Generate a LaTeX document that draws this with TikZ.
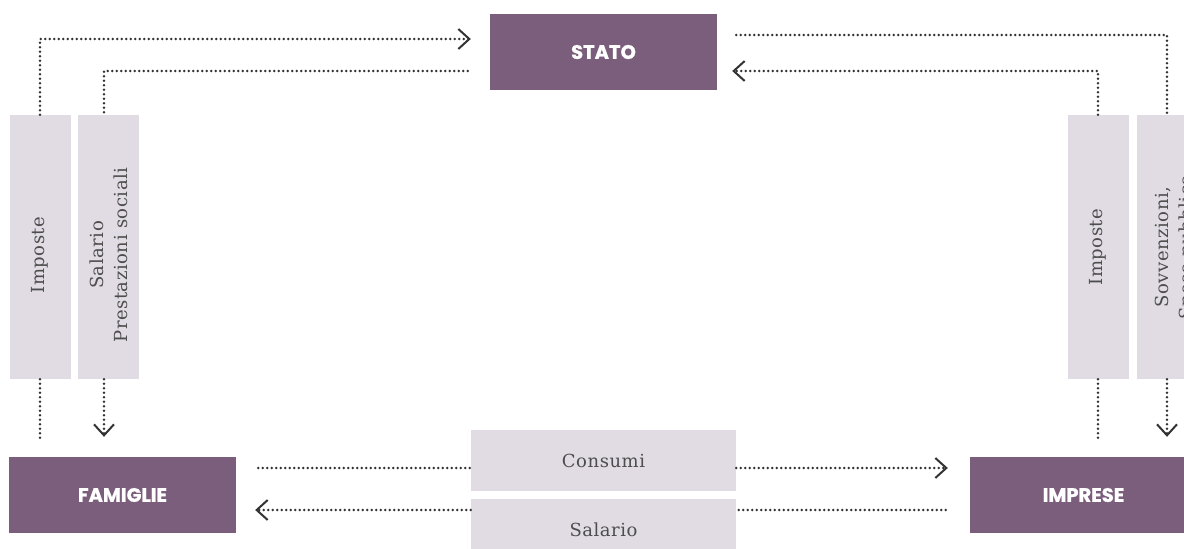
\documentclass[tikz,border=0pt]{standalone}
\usepackage{fontspec}
\setmainfont{DejaVu Serif}[LetterSpace=3]
\newfontfamily\titlefont{Poppins}[BoldFeatures={FakeBold=1.2}]
\usetikzlibrary{arrows.meta}
\definecolor{boxpurple}{HTML}{7B5E7B}
\definecolor{boxgray}{HTML}{E1DCE3}
\definecolor{dotcol}{HTML}{333333}
\definecolor{txtcol}{HTML}{4D4D4D}
\tikzset{
  mainbox/.style={fill=boxpurple, draw=none, minimum width=227pt, minimum height=76pt, inner sep=0pt,
    text=white, font=\titlefont\bfseries\fontsize{19.5}{22}\selectfont},
  vbox/.style={fill=boxgray, draw=none, minimum width=61pt, minimum height=264pt, inner sep=0pt},
  hbox/.style={fill=boxgray, draw=none, minimum width=265pt, minimum height=61pt, inner sep=0pt,
    text=txtcol, font=\fontsize{18}{21}\selectfont},
  vlabel/.style={rotate=90, text=txtcol, align=center, inner sep=0pt,
    font=\fontsize{18}{24}\selectfont},
  dots/.style={draw=dotcol, line width=2.8pt, line cap=round, dash pattern=on 0pt off 4.5pt},
  tip/.style={-{Straight Barb[length=11pt,width=20pt,line width=2pt]}}
}
\begin{document}
\begin{tikzpicture}[x=1pt,y=-1pt]
\useasboundingbox (0,0) rectangle (1184,549);
\clip (0,0) rectangle (1184,549);
% main boxes
\node[mainbox] (stato) at (603.5,52) {STATO};
\node[mainbox] (famiglie) at (122.5,495) {FAMIGLIE};
\node[mainbox] (imprese) at (1083.5,495) {IMPRESE};
% vertical label boxes
\node[vbox] (b1) at (40,247) {};
\node[vbox] (b2) at (108.5,247) {};
\node[vbox] (b3) at (1098,247) {};
\node[vbox] (b4) at (1167,247) {};
\node[vlabel] (t1) at (40,255) {Imposte};
\node[vlabel] (t2) at (109,255) {Salario\\Prestazioni sociali};
\node[vlabel] (t3) at (1098,247) {Imposte};
\node[vlabel] (t4) at (1176,247) {Sovvenzioni,\\Spesa pubblica};
% horizontal label boxes
\node[hbox] (consumi) at (603.5,460.5) {Consumi};
\node[hbox] (salario) at (603.5,529.5) {Salario};
% helper coordinates
\coordinate (s1) at ([xshift=-19pt,yshift=13pt]stato.west);
\coordinate (s2) at ([xshift=-22pt,yshift=-19pt]stato.west);
\coordinate (s3) at ([xshift=19pt,yshift=17pt]stato.east);
\coordinate (s4) at ([xshift=15pt,yshift=-19pt]stato.east);
\coordinate (b2n) at ([xshift=-4.5pt]b2.north);
\coordinate (b2s) at ([xshift=-4.5pt]b2.south);
\coordinate (c1) at ([xshift=22pt,yshift=27pt]famiglie.east);
\coordinate (c2) at ([yshift=-15pt]famiglie.east);
% top connectors
\draw[dots,tip] (b1.north) |- (s1);
\draw[dots] (s2) -| (b2n);
\draw[dots] (s3) -| (b4.north);
\draw[dots,tip] (b3.north) |- (s4);
% vertical lower connectors
\draw[dots,shorten >=19pt] (b1.south) -- (b1.south |- famiglie.north);
\draw[dots,tip,shorten >=20pt] (b2s) -- (b2s |- famiglie.north);
\draw[dots,shorten >=19pt] (b3.south) -- (b3.south |- imprese.north);
\draw[dots,tip,shorten >=20pt] (b4.south) -- (b4.south |- imprese.north);
% bottom connectors
\draw[dots] (c1) -- (c1 -| consumi.west);
\draw[dots,tip,shorten >=22pt] (c1 -| consumi.east) -- (c1 -| imprese.west);
\draw[dots,shorten <=24pt] (c2 -| imprese.west) -- (c2 -| salario.east);
\draw[dots,tip,shorten >=19pt] (c2 -| salario.west) -- (c2);
\end{tikzpicture}
\end{document}
